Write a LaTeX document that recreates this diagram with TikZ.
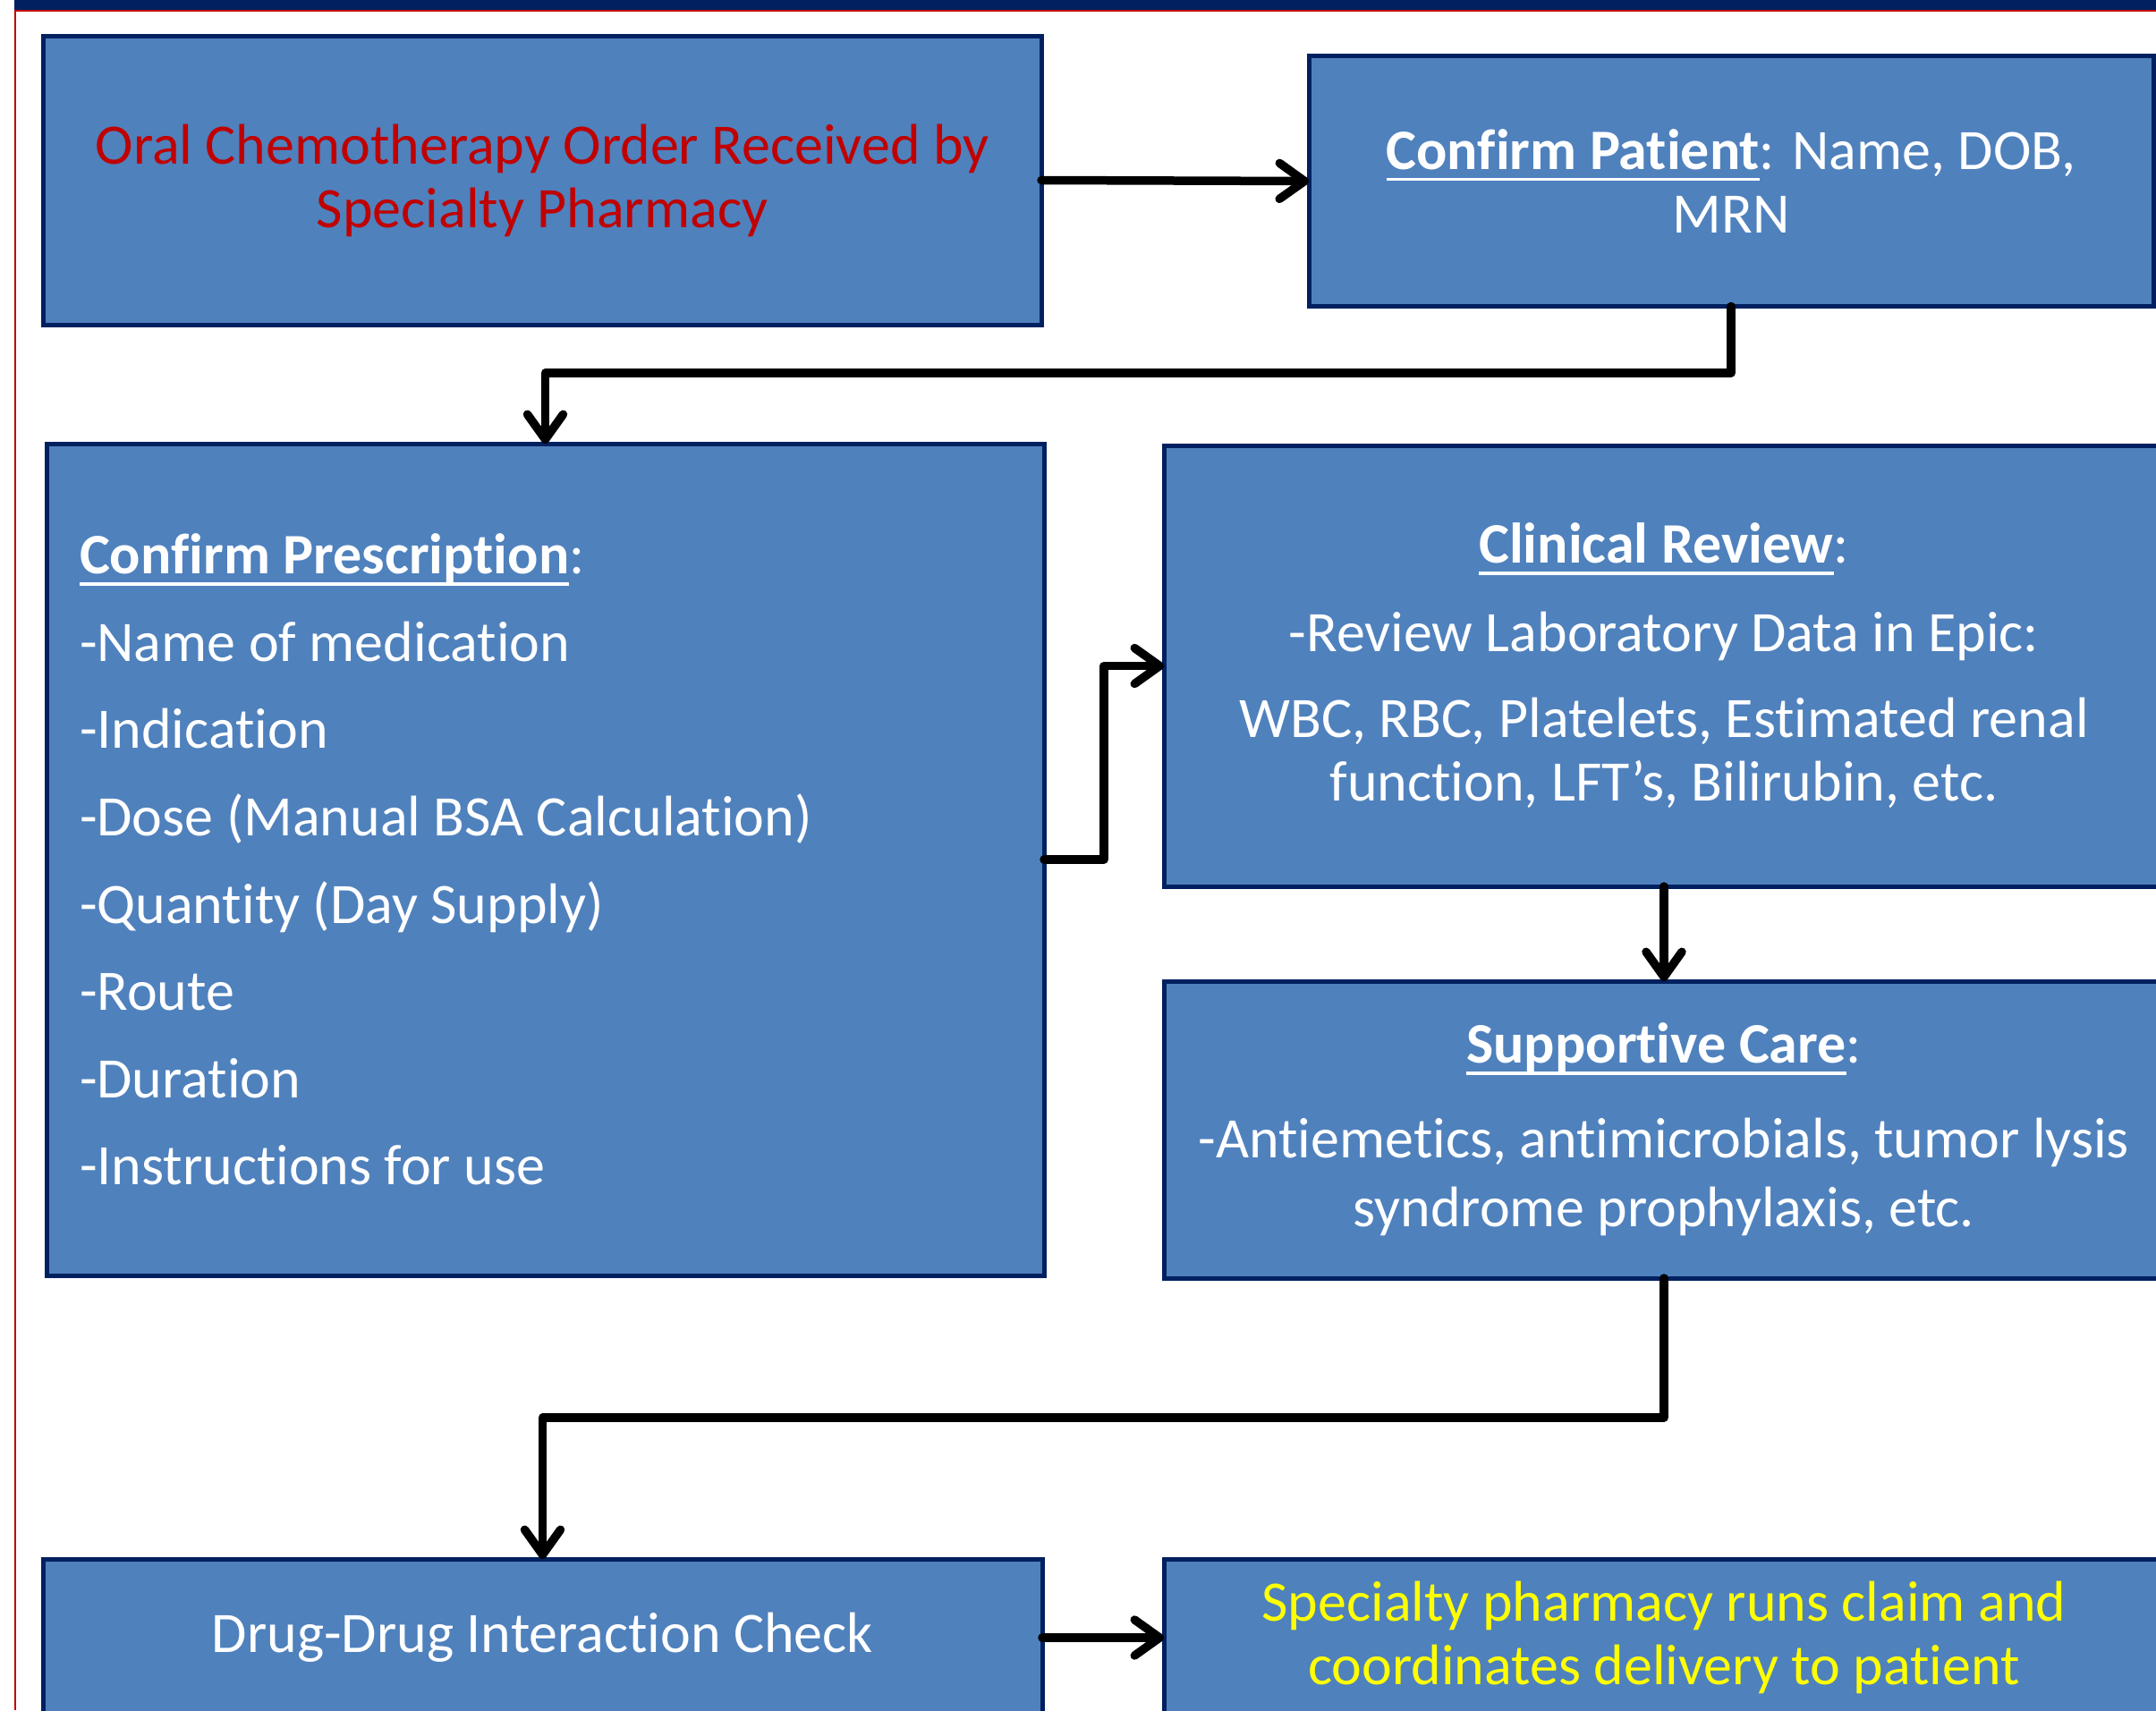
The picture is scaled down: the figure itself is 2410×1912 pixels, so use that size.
\documentclass[tikz,border=0pt]{standalone}
\usepackage{fontspec}
\setmainfont{Carlito}[Ligatures={TeX,NoCommon}]
\usetikzlibrary{arrows.meta}
\definecolor{navy}{HTML}{002060}
\definecolor{boxblue}{HTML}{4F81BD}
\definecolor{darkred}{HTML}{C00000}
\definecolor{brightyellow}{HTML}{FFFF00}
\newcommand\myul[1]{\setbox0\hbox{#1}\rlap{\rule[-13pt]{\wd0}{3.5pt}}\box0}
\tikzset{
  flowbox/.style={draw=navy, line width=5pt, fill=boxblue, inner sep=0pt, outer sep=0pt,
    text=white, align=center, font=\fontsize{64}{71}\selectfont},
  arr/.style={line width=9.5pt, black, line cap=round, line join=round,
    -{Straight Barb[length=28pt,width=40pt,round]}}
}
\begin{document}
\begin{tikzpicture}[x=1pt,y=-1pt]
\useasboundingbox (0,0) rectangle (2410,1912);
\begin{scope}
\clip (0,0) rectangle (2410,1912);
% frame
\fill[navy] (16,0) rectangle (2410,11);
\draw[darkred, line width=2pt] (2410,12) -- (17,12) -- (17,1912);
% boxes
\node[flowbox, minimum width=1116pt, minimum height=323pt, text=darkred] (b1) at (606,201.5)
  {Oral Chemotherapy Order Received by\\ Specialty Pharmacy};
\node[flowbox, minimum width=944pt, minimum height=280pt] (b2) at (1935,202.5)
  {\myul{\textbf{Confirm Patient}}: Name, DOB,\\ MRN};
\node[flowbox, minimum width=1115pt, minimum height=930pt, align=flush left, text width=1041pt] (b3) at (609.5,961)
  {\myul{\textbf{Confirm Prescription}}:\\[26.6pt]
   -Name of medication\\[26.6pt]
   -Indication\\[26.6pt]
   -Dose (Manual BSA Calculation)\\[26.6pt]
   -Quantity (Day Supply)\\[26.6pt]
   -Route\\[26.6pt]
   -Duration\\[26.6pt]
   -Instructions for use};
\node[flowbox, minimum width=1118pt, minimum height=493pt] (b4) at (1860,744.5)
  {\myul{\textbf{Clinical Review}}:\\[28pt]
   -Review Laboratory Data in Epic:\\[25pt]
   WBC, RBC, Platelets, Estimated renal\\
   function, LFT’s, Bilirubin, etc.};
\node[flowbox, minimum width=1118pt, minimum height=332pt] (b5) at (1860,1263)
  {\myul{\textbf{Supportive Care}}:\\[35pt]
   -Antiemetics, antimicrobials, tumor lysis\\[6pt]
   syndrome prophylaxis, etc.};
\node[flowbox, minimum width=1117pt, minimum height=176pt] (b6) at (606.5,1831)
  {Drug-Drug Interaction Check};
\node[flowbox, minimum width=1118pt, minimum height=176pt, text=brightyellow] (b7) at (1860,1831)
  {Specialty pharmacy runs claim and\\ coordinates delivery to patient};
% connectors
\draw[arr] (b1.east) -- (b2.west);
\draw[arr] (b2.south) -- (b2.south |- 0,417) -| (b3.north);
\draw[arr] (b3.east) -- ++(67,0) |- (b4.west);
\draw[arr] (b4.south) -- (b5.north);
\draw[arr] (b5.south) -- (b5.south |- 0,1585) -| (b6.north);
\draw[arr] (b6.east) -- (b7.west);
\end{scope}
\end{tikzpicture}
\end{document}
